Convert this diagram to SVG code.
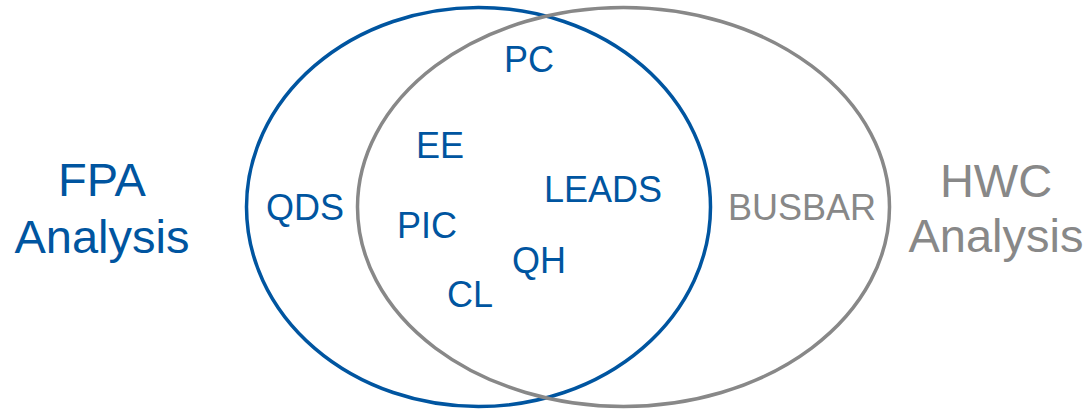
<svg xmlns="http://www.w3.org/2000/svg" width="1088" height="410" viewBox="0 0 1088 410">
<style>
.b{fill:#0055A0}
.g{fill:#888888}
text{font-family:"Liberation Sans",Arial,sans-serif;text-anchor:middle}
.s{font-size:36px}
.l{font-size:47px}
</style>
<rect width="1088" height="410" fill="#ffffff"/>
<g id="fpa-set"><ellipse cx="478.5" cy="207" rx="232" ry="199.5" fill="none" stroke="#0055A0" stroke-width="3.5"/></g>
<g id="hwc-set"><ellipse cx="623.5" cy="207" rx="266" ry="199.5" fill="none" stroke="#888888" stroke-width="3.5"/></g>
<g id="fpa-label"><text class="b l" x="102" y="196">FPA</text><text class="b l" x="102" y="253">Analysis</text></g>
<g id="hwc-label"><text class="g l" x="996" y="197">HWC</text><text class="g l" x="996" y="252">Analysis</text></g>
<g id="qds"><text class="b s" x="305" y="220">QDS</text></g>
<g id="busbar"><text class="g s" x="802" y="220">BUSBAR</text></g>
<g id="pc"><text class="b s" x="529" y="72">PC</text></g>
<g id="ee"><text class="b s" x="440" y="158">EE</text></g>
<g id="leads"><text class="b s" x="603" y="202">LEADS</text></g>
<g id="pic"><text class="b s" x="427" y="238">PIC</text></g>
<g id="qh"><text class="b s" x="539" y="273">QH</text></g>
<g id="cl"><text class="b s" x="470" y="307">CL</text></g>
<g id="connectors"></g>
</svg>
